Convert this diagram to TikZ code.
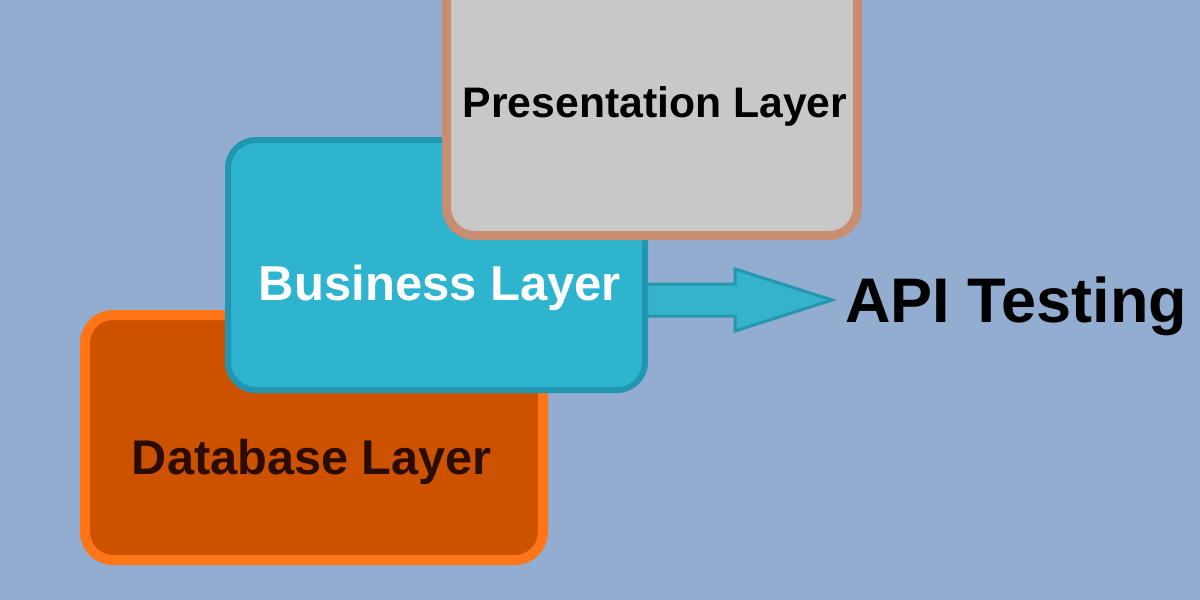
\documentclass[tikz,border=0pt]{standalone}
\usepackage{fontspec}
\setmainfont{Liberation Sans}
\usetikzlibrary{calc}
\definecolor{bgc}{HTML}{93ADD1}
\definecolor{dbfill}{HTML}{CC5200}
\definecolor{dbdraw}{HTML}{FF7518}
\definecolor{busfill}{HTML}{2FB4CF}
\definecolor{busdraw}{HTML}{2196B0}
\definecolor{presfill}{HTML}{C8C8C8}
\definecolor{presdraw}{HTML}{C98D72}
\definecolor{arrfill}{HTML}{35B3CB}
\definecolor{arrdraw}{HTML}{2397AE}
\definecolor{dbtext}{HTML}{2A0C00}
\pgfdeclarelayer{back}
\pgfdeclarelayer{bg}
\pgfsetlayers{back,bg,main}
\tikzset{
  layerbox/.style={rectangle, rounded corners=28pt, inner sep=0pt, outer sep=0pt},
  lbl/.style={inner sep=0pt, anchor=base, font=\bfseries},
  arrowsty/.style={fill=arrfill, draw=arrdraw, line width=3pt, line join=miter}
}
\begin{document}
\begin{tikzpicture}[x=1pt,y=-1pt]
\useasboundingbox (0,0) rectangle (1200,600);
\clip (0,0) rectangle (1200,600);
\begin{pgfonlayer}{back}
\fill[bgc] (0,0) rectangle (1200,600);
\end{pgfonlayer}
% Database layer
\node[layerbox, fill=dbfill, draw=dbdraw, line width=10pt,
      minimum width=458pt, minimum height=245pt] (db) at (314,437.5) {};
% Business layer
\node[layerbox, fill=busfill, draw=busdraw, line width=6pt,
      minimum width=417pt, minimum height=250pt] (bus) at (436.5,265) {};
% Presentation layer
\node[layerbox, fill=presfill, draw=presdraw, line width=9pt,
      minimum width=411pt, minimum height=276pt] (pres) at (652,97.5) {};
% texts
\node[lbl, font=\bfseries\fontsize{42.7}{48}\selectfont, text=black] (ptext) at (655,117) {Presentation Layer};
\node[lbl, font=\bfseries\fontsize{49}{55}\selectfont, text=white] (btext) at (440,300) {Business Layer};
\node[lbl, font=\bfseries\fontsize{48.7}{55}\selectfont, text=dbtext] (dtext) at (312,474) {Database Layer};
\node[inner sep=0pt, anchor=base west, font=\bfseries\fontsize{63}{70}\selectfont, text=black] (api) at (845,322) {API Testing};
% arrow
\coordinate (tip) at (832,300);
\coordinate (start) at ($(bus.east |- tip)+(-6,0)$);
\begin{pgfonlayer}{bg}
\draw[arrowsty] ($(start)+(0,-16)$) -- ($(tip)+(-97,-16)$) -- ($(tip)+(-97,-31)$) -- (tip)
  -- ($(tip)+(-97,31)$) -- ($(tip)+(-97,16)$) -- ($(start)+(0,16)$);
\end{pgfonlayer}
\end{tikzpicture}
\end{document}
